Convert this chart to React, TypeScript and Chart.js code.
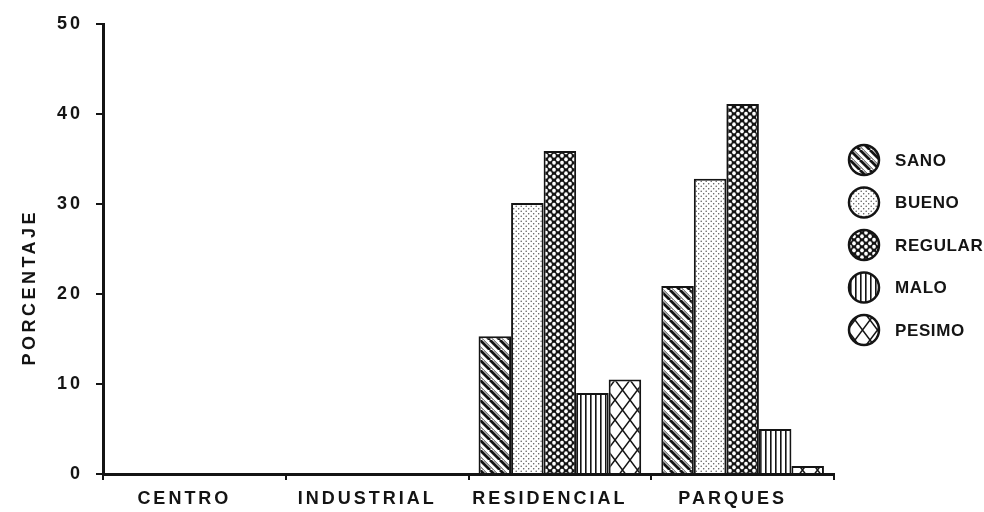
import React, { useEffect, useRef } from "react";
import { Chart, registerables } from "chart.js";

Chart.register(...registerables);

const categories = ["CENTRO", "INDUSTRIAL", "RESIDENCIAL", "PARQUES"];
const seriesNames = ["SANO", "BUENO", "REGULAR", "MALO", "PESIMO"];
const sano = [null, null, 15.3, 20.9];
const bueno = [null, null, 30.1, 32.8];
const regular = [null, null, 35.9, 41.1];
const malo = [null, null, 9.0, 5.0];
const pesimo = [null, null, 10.5, 0.9];
const yTicks = [0, 10, 20, 30, 40, 50];
const yTitle = "PORCENTAJE";

const INK = "#141414";
const FONT = "'Liberation Sans', Arial, sans-serif";

function tile(w: number, h: number, draw: (c: CanvasRenderingContext2D) => void) {
  const cv = document.createElement("canvas");
  cv.width = w;
  cv.height = h;
  const c = cv.getContext("2d")!;
  draw(c);
  const ctx = document.createElement("canvas").getContext("2d")!;
  return ctx.createPattern(cv, "repeat") as CanvasPattern;
}

function makePatterns() {
  const sanoP = tile(10, 10, (c) => {
    c.fillStyle = "#fff";
    c.fillRect(0, 0, 10, 10);
    c.strokeStyle = INK;
    c.lineWidth = 2.8;
    for (const k of [-10, 0, 10]) {
      c.beginPath();
      c.moveTo(k, 0);
      c.lineTo(k + 10, 10);
      c.stroke();
    }
    c.lineWidth = 0.9;
    for (const k of [-10, 0, 10]) {
      c.beginPath();
      c.moveTo(k + 3.6, 0);
      c.lineTo(k + 3.6 + 10, 10);
      c.stroke();
    }
  });
  const buenoP = tile(5, 5, (c) => {
    c.fillStyle = "#fff";
    c.fillRect(0, 0, 5, 5);
    c.fillStyle = "#555";
    c.beginPath();
    c.arc(1.2, 1.2, 0.75, 0, Math.PI * 2);
    c.fill();
    c.beginPath();
    c.arc(3.7, 3.7, 0.75, 0, Math.PI * 2);
    c.fill();
  });
  const regularP = tile(8, 7, (c) => {
    c.fillStyle = INK;
    c.fillRect(0, 0, 8, 7);
    c.fillStyle = "#fff";
    const pts = [
      [2, 1.75],
      [6, 5.25],
      [6, -1.75],
      [2, 8.75],
      [-2, 5.25],
      [10, 1.75],
    ];
    for (const [x, y] of pts) {
      c.beginPath();
      c.ellipse(x, y, 1.8, 2.1, 0, 0, Math.PI * 2);
      c.fill();
    }
  });
  const maloP = tile(5, 4, (c) => {
    c.fillStyle = "#fff";
    c.fillRect(0, 0, 5, 4);
    c.fillStyle = INK;
    c.fillRect(0, 0, 1.6, 4);
  });
  const pesimoP = tile(15, 20, (c) => {
    c.fillStyle = "#fff";
    c.fillRect(0, 0, 15, 20);
    c.strokeStyle = INK;
    c.lineWidth = 1.5;
    c.beginPath();
    c.moveTo(0, 0);
    c.lineTo(15, 20);
    c.moveTo(15, 0);
    c.lineTo(0, 20);
    c.stroke();
  });
  return [sanoP, buenoP, regularP, maloP, pesimoP];
}

const spacingPlugin = {
  id: "spacing",
  beforeDraw(chart: any) {
    (chart.ctx as any).letterSpacing = "3px";
  },
};

const legendPlugin = {
  id: "customLegend",
  afterDraw(chart: any) {
    const ctx: CanvasRenderingContext2D = chart.ctx;
    const area = chart.chartArea;
    ctx.save();
    chart.data.datasets.forEach((ds: any, i: number) => {
      const cx = area.right + 30;
      const cy = area.top + 136 + i * 42.5;
      ctx.beginPath();
      ctx.arc(cx, cy, 15, 0, Math.PI * 2);
      ctx.fillStyle = ds.backgroundColor;
      ctx.fill();
      ctx.lineWidth = 2.5;
      ctx.strokeStyle = INK;
      ctx.stroke();
      (ctx as any).letterSpacing = "0.6px";
      ctx.font = `bold 17px ${FONT}`;
      ctx.fillStyle = INK;
      ctx.textAlign = "left";
      ctx.textBaseline = "middle";
      ctx.fillText(ds.label, cx + 31, cy + 1);
    });
    (ctx as any).letterSpacing = "3.5px";
    ctx.font = `bold 18px ${FONT}`;
    ctx.fillStyle = INK;
    ctx.textAlign = "center";
    ctx.textBaseline = "middle";
    ctx.translate(30, area.top + (area.bottom - area.top) * 0.585);
    ctx.rotate(-Math.PI / 2);
    ctx.fillText(yTitle, 0, 0);
    ctx.restore();
  },
};

export default function App() {
  const ref = useRef<HTMLCanvasElement | null>(null);
  useEffect(() => {
    if (!ref.current) return;
    const pats = makePatterns();
    const values = [sano, bueno, regular, malo, pesimo];
    const chart = new Chart(ref.current, {
      type: "bar",
      data: {
        labels: categories,
        datasets: seriesNames.map((name, i) => ({
          label: name,
          data: values[i] as any,
          backgroundColor: pats[i] as any,
          borderColor: INK,
          borderWidth: 2,
          categoryPercentage: 0.89,
          barPercentage: 1,
        })),
      },
      options: {
        responsive: false,
        animation: false,
        layout: { padding: { left: 0, right: 150, top: 24, bottom: 0 } },
        plugins: {
          legend: { display: false },
          tooltip: { enabled: false },
        },
        scales: {
          x: {
            grid: {
              offset: true,
              drawOnChartArea: false,
              drawTicks: true,
              tickLength: 6,
              color: INK,
              lineWidth: 2,
            },
            border: { display: true, color: INK, width: 3 },
            ticks: {
              color: INK,
              padding: 8,
              labelOffset: -10,
              font: { family: FONT, size: 18, weight: "bold" },
              maxRotation: 0,
            },
            afterFit: (s: any) => {
              s.height = 38;
            },
          },
          y: {
            min: 0,
            max: 50,
            afterBuildTicks: (s: any) => {
              s.ticks = yTicks.map((v) => ({ value: v }));
            },
            grid: {
              drawOnChartArea: false,
              drawTicks: true,
              tickLength: 7,
              color: INK,
              lineWidth: 2,
            },
            border: { display: true, color: INK, width: 3 },
            ticks: {
              color: INK,
              padding: 13,
              font: { family: FONT, size: 18, weight: "bold" },
            },
            afterFit: (s: any) => {
              s.width = 103;
            },
          },
        },
      },
      plugins: [spacingPlugin, legendPlugin],
    });
    return () => chart.destroy();
  }, []);
  return (
    <div style={{ position: "fixed", left: 0, top: 0, width: 984, height: 512, background: "#fff" }}>
      <canvas ref={ref} width={984} height={512} style={{ display: "block" }} />
    </div>
  );
}
